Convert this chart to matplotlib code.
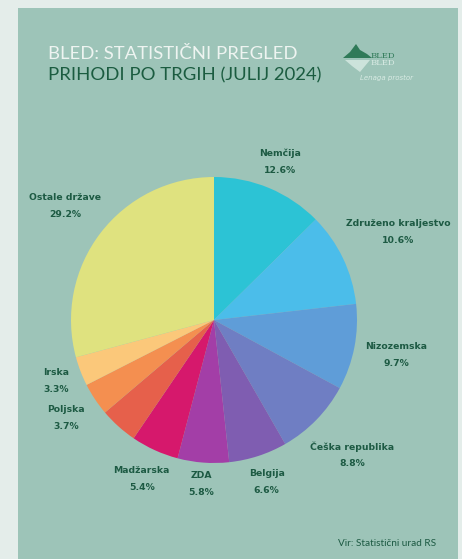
import numpy as np
import matplotlib.pyplot as plt
from matplotlib.patches import Rectangle, Polygon

# data (percent of July 2024 revenue by market); one slice has no label
markets = ["Nemčija", "Združeno kraljestvo", "Nizozemska", "Češka republika",
           "Belgija", "ZDA", "Madžarska", "", "Poljska", "Irska", "Ostale države"]
shares = [12.6, 10.6, 9.7, 8.8, 6.6, 5.8, 5.4, 4.3, 3.7, 3.3, 29.2]

colors = ["#2cc3d5", "#4bbdea", "#5f9dd8", "#6f7ec3", "#7f5db1", "#a33ea7",
          "#d6186c", "#e6604b", "#f48f50", "#fbc87a", "#dfe27f"]
# label distance from centre, in radii
label_r = [1.20, 1.43, 1.30, 1.35, 1.19, 1.15, 1.22, 1.25, 1.24, 1.18, 1.31]

W, H = 462, 559
fig = plt.figure(figsize=(W / 100, H / 100), dpi=100)
fig.patch.set_facecolor("#e4edea")
ax = fig.add_axes([0, 0, 1, 1])

# panel
ax.add_patch(Rectangle((18, 0), 440, H - 8, facecolor="#9dc4b8", edgecolor="none", zorder=0))

cx, cy, R = 214, H - 320, 143
wedges, _ = ax.pie(shares, colors=colors, startangle=90, counterclock=False,
                   center=(cx, cy), radius=R,
                   wedgeprops=dict(linewidth=0))

green = "#1d5a43"
for w, name, val, lr in zip(wedges, markets, shares, label_r):
    if not name:
        continue
    ang = np.deg2rad((w.theta1 + w.theta2) / 2)
    x = cx + lr * R * np.cos(ang)
    y = cy + lr * R * np.sin(ang)
    ax.text(x, y + 8.5, name, ha="center", va="center", fontsize=6.7,
            fontweight="bold", color=green, family="DejaVu Sans")
    ax.text(x, y - 8.5, f"{val}%", ha="center", va="center", fontsize=6.7,
            fontweight="bold", color=green, family="DejaVu Sans")

# titles
ax.text(48, H - 54, "BLED: STATISTIČNI PREGLED", ha="left", va="center",
        fontsize=13.3, color="#eef4f1", family="Lato")
ax.text(48, H - 75, "PRIHODI PO TRGIH (JULIJ 2024)", ha="left", va="center",
        fontsize=13.3, color="#1b5c40", family="Lato")

# logo (rough)
ax.add_patch(Polygon([(343, H - 58), (350, H - 52), (356, H - 44), (360, H - 50),
                      (367, H - 54), (372, H - 58)], closed=True,
                     facecolor="#2f7a58", edgecolor="none"))
ax.add_patch(Polygon([(345, H - 60), (370, H - 60), (360, H - 72), (352, H - 66)],
                     closed=True, facecolor="#d9ebe4", edgecolor="none", alpha=0.8))
ax.text(371, H - 56, "BLED", fontsize=6, color="#2f7a58", family="DejaVu Serif",
        ha="left", va="center")
ax.text(371, H - 63, "BLED", fontsize=6, color="#d9ebe4", family="DejaVu Serif",
        ha="left", va="center")
ax.text(360, H - 78, "Lenaga prostor", fontsize=5, color="#d9ebe4", style="italic",
        ha="left", va="center")

ax.text(436, H - 543, "Vir: Statistični urad RS", ha="right", va="center",
        fontsize=7.2, color=green, family="Lato")

ax.set_xlim(0, W)
ax.set_ylim(0, H)
ax.set_aspect("auto")
ax.axis("off")

fig.savefig("out.png", dpi=100, facecolor=fig.get_facecolor())
